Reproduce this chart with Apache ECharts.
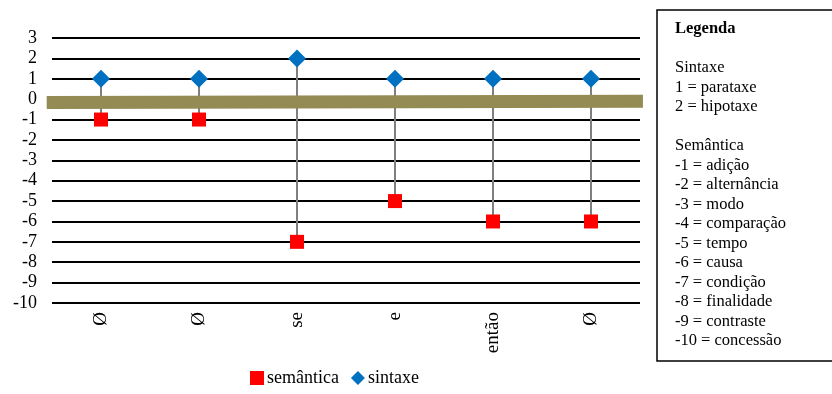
<!DOCTYPE html>
<html><head><meta charset="utf-8">
<script src="https://cdn.jsdelivr.net/npm/echarts@6/dist/echarts.min.js"></script>
<style>html,body{margin:0;padding:0;background:#fff}#c{width:832px;height:394px}</style>
</head><body><div id="c"></div>
<script>
const categories = ['Ø', 'Ø', 'se', 'e', 'então', 'Ø'];
const sintaxe = [1, 1, 2, 1, 1, 1];
const semantica = [-1, -1, -7, -5, -6, -6];
const yMin = -10, yMax = 3, yStep = 1;
const bandLevels = [-0.17, -0.1];
const legendLines = ['Legenda', '', 'Sintaxe', '1 = parataxe', '2 = hipotaxe', '', 'Semântica',
  '-1 = adição', '-2 = alternância', '-3 = modo', '-4 = comparação', '-5 = tempo', '-6 = causa',
  '-7 = condição', '-8 = finalidade', '-9 = contraste', '-10 = concessão'];

const FONT = 'Liberation Serif';
const chart = echarts.init(document.getElementById('c'));
const dropData = categories.map((c, i) => [i, sintaxe[i], semantica[i]]);

const graphics = [{
  type: 'rect', shape: { x: 657, y: 10, width: 220, height: 351 },
  style: { fill: '#fff', stroke: '#000', lineWidth: 1.5 }
}];
legendLines.forEach((t, i) => {
  if (!t) return;
  graphics.push({
    type: 'text', x: 675, y: 29 + i * 19.5,
    style: { text: t, font: (i === 0 ? 'bold ' : '') + '16.5px "' + FONT + '"', fill: '#000',
      textVerticalAlign: 'middle', verticalAlign: 'middle' }
  });
});

chart.setOption({
  animation: false,
  textStyle: { fontFamily: FONT },
  grid: { left: 52, right: 192, top: 38, bottom: 91 },
  legend: {
    left: 245, bottom: 2, itemGap: 12, itemWidth: 14, itemHeight: 14,
    textStyle: { fontSize: 18, fontFamily: FONT, color: '#000', padding: [0, 0, 0, -2] },
    data: [{ name: 'semântica', icon: 'rect' }, { name: 'sintaxe', icon: 'diamond' }]
  },
  xAxis: [{
    type: 'category', data: categories, boundaryGap: true,
    axisLine: { show: false }, axisTick: { show: false },
    axisLabel: { rotate: 90, fontSize: 19, color: '#000', fontFamily: FONT, margin: 9 }
  }, {
    type: 'value', min: 0, max: 1, show: false
  }],
  yAxis: {
    type: 'value', min: yMin, max: yMax, interval: yStep,
    axisLine: { show: false }, axisTick: { show: false },
    axisLabel: { fontSize: 18, color: '#000', fontFamily: FONT, margin: 15 },
    splitLine: { lineStyle: { color: '#000', width: 2 } }
  },
  graphic: graphics,
  series: [{
    type: 'custom', name: 'drop', xAxisIndex: 0, z: 1, silent: true,
    data: dropData,
    renderItem: function (params, api) {
      const p1 = api.coord([api.value(0), api.value(1)]);
      const p2 = api.coord([api.value(0), api.value(2)]);
      return { type: 'line', shape: { x1: p1[0], y1: p1[1], x2: p2[0], y2: p2[1] },
        style: { stroke: '#7f7f7f', lineWidth: 2 } };
    }
  }, {
    type: 'line', name: 'band', xAxisIndex: 1, z: 2, silent: true, clip: false,
    symbol: 'none', data: [[-0.009, bandLevels[0]], [1.005, bandLevels[1]]],
    lineStyle: { color: '#948a54', width: 13, cap: 'butt' }
  }, {
    type: 'scatter', name: 'semântica', z: 3, symbol: 'rect', symbolSize: 14,
    itemStyle: { color: '#ff0000', opacity: 1 }, data: semantica
  }, {
    type: 'scatter', name: 'sintaxe', z: 3, symbol: 'diamond', symbolSize: 18,
    itemStyle: { color: '#0070c0', opacity: 1 }, data: sintaxe
  }]
});
</script></body></html>
